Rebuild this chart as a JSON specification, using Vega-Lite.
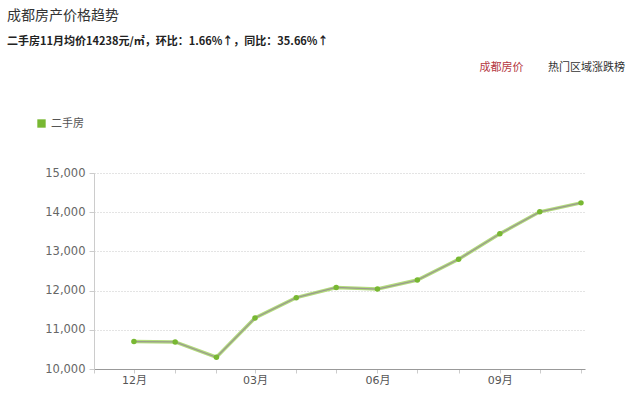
{
  "$schema": "https://vega.github.io/schema/vega-lite/v6.json",
  "autosize": {"type": "none"},
  "width": 491,
  "height": 196,
  "padding": {"left": 94, "top": 173, "right": 55, "bottom": 36},
  "background": "#ffffff",
  "config": {
    "font": "DejaVu Sans, Noto Sans CJK SC",
    "view": {"stroke": null}
  },
  "title": {
    "text": "成都房产价格趋势",
    "subtitle": "二手房11月均价14238元/㎡，环比：1.66%↑，同比：35.66%↑",
    "anchor": "start",
    "frame": "group",
    "dx": -87,
    "offset": 14,
    "font": "Noto Sans CJK SC",
    "fontSize": 14,
    "fontWeight": "normal",
    "color": "#333333",
    "subtitleFont": "Noto Sans CJK SC",
    "subtitleFontSize": 11,
    "subtitleFontWeight": "bold",
    "subtitleColor": "#222222",
    "subtitlePadding": 13
  },
  "data": {
    "values": [
      {"month": "2015-12-01", "series": "二手房", "price": 10700},
      {"month": "2016-01-01", "series": "二手房", "price": 10690},
      {"month": "2016-02-01", "series": "二手房", "price": 10300},
      {"month": "2016-03-01", "series": "二手房", "price": 11300},
      {"month": "2016-04-01", "series": "二手房", "price": 11820},
      {"month": "2016-05-01", "series": "二手房", "price": 12080},
      {"month": "2016-06-01", "series": "二手房", "price": 12040},
      {"month": "2016-07-01", "series": "二手房", "price": 12270},
      {"month": "2016-08-01", "series": "二手房", "price": 12800},
      {"month": "2016-09-01", "series": "二手房", "price": 13450},
      {"month": "2016-10-01", "series": "二手房", "price": 14010},
      {"month": "2016-11-01", "series": "二手房", "price": 14238}
    ]
  },
  "resolve": {"axis": {"x": "independent", "y": "independent"}},
  "layer": [
    {
      "mark": {"type": "line", "stroke": "#b3dc7c", "strokeWidth": 3.5},
      "encoding": {
        "x": {
          "field": "month",
          "type": "temporal",
          "scale": {
            "type": "utc",
            "domain": [
              {"year": 2015, "month": 11, "date": 1, "utc": true},
              {"year": 2016, "month": 11, "date": 4, "utc": true}
            ]
          },
          "axis": {
            "title": null,
            "values": [
              {"year": 2015, "month": 11, "date": 1, "utc": true},
              {"year": 2015, "month": 12, "date": 1, "utc": true},
              {"year": 2016, "month": 1, "date": 1, "utc": true},
              {"year": 2016, "month": 2, "date": 1, "utc": true},
              {"year": 2016, "month": 3, "date": 1, "utc": true},
              {"year": 2016, "month": 4, "date": 1, "utc": true},
              {"year": 2016, "month": 5, "date": 1, "utc": true},
              {"year": 2016, "month": 6, "date": 1, "utc": true},
              {"year": 2016, "month": 7, "date": 1, "utc": true},
              {"year": 2016, "month": 8, "date": 1, "utc": true},
              {"year": 2016, "month": 9, "date": 1, "utc": true},
              {"year": 2016, "month": 10, "date": 1, "utc": true},
              {"year": 2016, "month": 11, "date": 1, "utc": true}
            ],
            "labelExpr": "(utcmonth(datum.value) + 1) % 3 == 0 ? utcFormat(datum.value, '%m月') : ''",
            "grid": false,
            "domainColor": "#999999",
            "tickColor": "#cccccc",
            "tickSize": 4,
            "labelColor": "#555555",
            "labelFontSize": 11,
            "labelPadding": 1
          }
        },
        "y": {
          "field": "price",
          "type": "quantitative",
          "scale": {"domain": [10000, 15000], "nice": false, "zero": false},
          "axis": {
            "title": null,
            "values": [10000, 11000, 12000, 13000, 14000, 15000],
            "format": ",.0f",
            "domainColor": "#cccccc",
            "tickColor": "#cccccc",
            "tickSize": 5,
            "gridColor": "#c8c8c8",
            "gridDash": [1, 2],
            "labelColor": "#666666",
            "labelFontSize": 11.5,
            "labelPadding": 4
          }
        }
      }
    },
    {
      "mark": {"type": "line", "stroke": "#9a9a8e", "strokeWidth": 1.3},
      "encoding": {
        "x": {
          "field": "month",
          "type": "temporal",
          "axis": {
            "orient": "top",
            "domain": false,
            "ticks": false,
            "labels": false,
            "grid": false,
            "title": "成都房价",
            "titleFont": "Noto Sans CJK SC",
            "titleFontSize": 11,
            "titleFontWeight": "normal",
            "titleColor": "#b5383f",
            "titleAnchor": null,
            "titleAlign": "center",
            "titleBaseline": "middle",
            "titleX": 407,
            "titleY": -106
          }
        },
        "y": {
          "field": "price",
          "type": "quantitative",
          "axis": null
        }
      }
    },
    {
      "mark": {"type": "point", "filled": true, "size": 30, "opacity": 1},
      "encoding": {
        "x": {
          "field": "month",
          "type": "temporal",
          "axis": {
            "orient": "top",
            "domain": false,
            "ticks": false,
            "labels": false,
            "grid": false,
            "title": "热门区域涨跌榜",
            "titleFont": "Noto Sans CJK SC",
            "titleFontSize": 11,
            "titleFontWeight": "normal",
            "titleColor": "#333333",
            "titleAnchor": null,
            "titleAlign": "center",
            "titleBaseline": "middle",
            "titleX": 492,
            "titleY": -106
          }
        },
        "y": {
          "field": "price",
          "type": "quantitative",
          "axis": null
        },
        "color": {
          "field": "series",
          "type": "nominal",
          "scale": {"range": ["#78b832"]},
          "legend": {
            "title": null,
            "orient": "none",
            "legendX": -58,
            "legendY": -55,
            "symbolType": "square",
            "symbolSize": 70,
            "labelFontSize": 11,
            "labelColor": "#555555",
            "labelFont": "Noto Sans CJK SC"
          }
        }
      }
    }
  ]
}
